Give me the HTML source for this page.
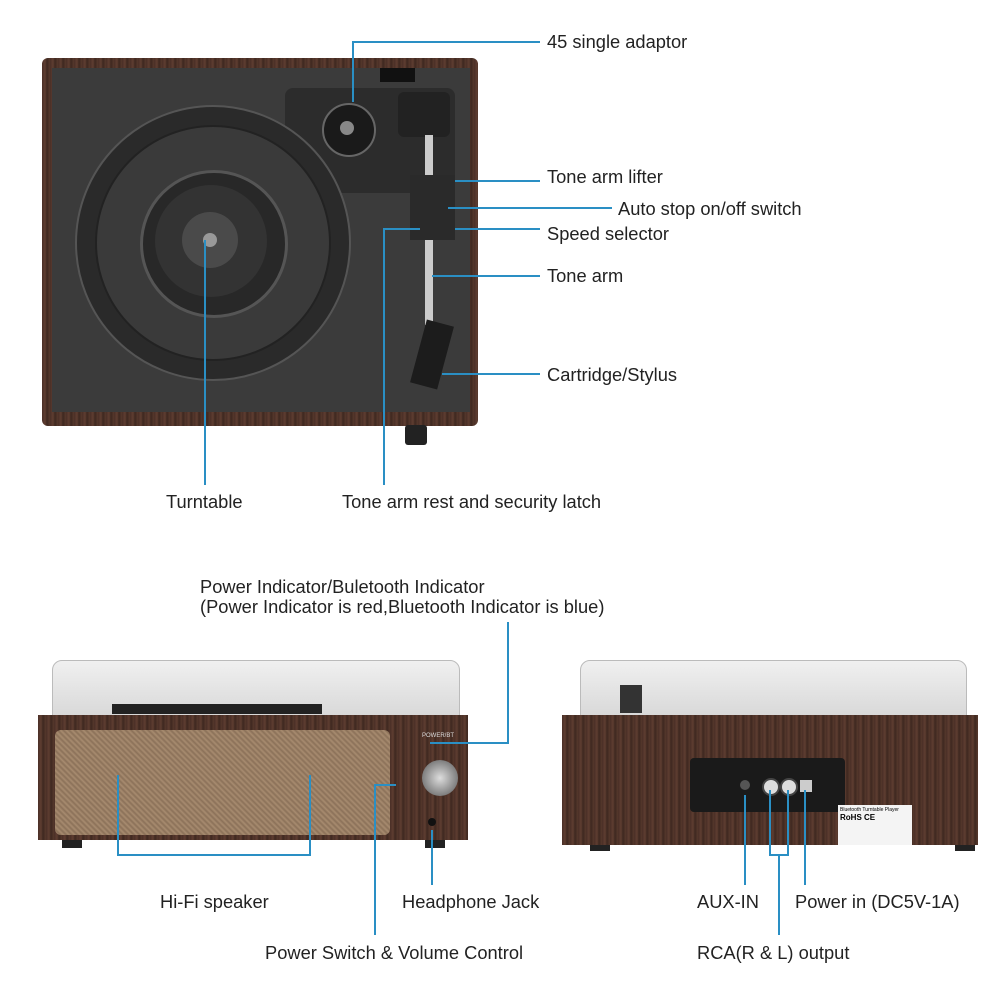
<!DOCTYPE html>
<html><head><style>
body{margin:0;width:1000px;height:1000px;background:#fff;position:relative;overflow:hidden;font-family:"Liberation Sans",sans-serif;}
.a{position:absolute}
.t{position:absolute;font-size:18.3px;color:#222;white-space:nowrap;line-height:1}
.h{position:absolute;height:2px;background:#2a8fc4}
.v{position:absolute;width:2px;background:#2a8fc4}
.c{position:absolute;border-radius:50%}
.wood{background:repeating-linear-gradient(90deg,#4a2f26 0,#5e3d31 3px,#3e2820 5px,#56382c 8px)}
</style></head><body>
<!-- top turntable -->
<div class="a wood" style="left:42px;top:58px;width:436px;height:368px;border-radius:6px"></div>
<div class="a" style="left:52px;top:68px;width:418px;height:344px;background:#3b3b3b"></div>
<div class="a" style="left:285px;top:88px;width:170px;height:105px;background:#2c2c2c;border-radius:8px"></div>
<div class="a" style="left:380px;top:68px;width:35px;height:14px;background:#111"></div>
<div class="c" style="left:75px;top:105px;width:272px;height:272px;background:#2a2a2a;border:2px solid #555"></div>
<div class="c" style="left:95px;top:125px;width:232px;height:232px;background:#3a3a3a;border:2px solid #222"></div>
<div class="c" style="left:140px;top:170px;width:142px;height:142px;background:#282828;border:3px solid #555"></div>
<div class="c" style="left:155px;top:185px;width:112px;height:112px;background:#333"></div>
<div class="c" style="left:182px;top:212px;width:56px;height:56px;background:#4a4a4a"></div>
<div class="c" style="left:203px;top:233px;width:14px;height:14px;background:#999"></div>
<div class="c" style="left:322px;top:103px;width:50px;height:50px;background:#1a1a1a;border:2px solid #666"></div>
<div class="c" style="left:340px;top:121px;width:14px;height:14px;background:#888"></div>
<div class="a" style="left:398px;top:92px;width:52px;height:45px;background:#222;border-radius:6px"></div>
<div class="a" style="left:425px;top:135px;width:8px;height:190px;background:#ccc"></div>
<div class="a" style="left:410px;top:175px;width:45px;height:65px;background:#2a2a2a"></div>
<div class="a" style="left:418px;top:322px;width:28px;height:65px;background:#1c1c1c;transform:rotate(15deg)"></div>
<div class="a" style="left:405px;top:425px;width:22px;height:20px;background:#222;border-radius:3px"></div>
<!-- top labels -->
<div class="v" style="left:352px;top:42px;height:60px"></div><div class="h" style="left:352px;top:41px;width:188px"></div>
<div class="t" style="left:547px;top:33px">45 single adaptor</div>
<div class="h" style="left:455px;top:180px;width:85px"></div><div class="t" style="left:547px;top:168px">Tone arm lifter</div>
<div class="h" style="left:448px;top:207px;width:164px"></div><div class="t" style="left:618px;top:200px">Auto stop on/off switch</div>
<div class="h" style="left:455px;top:228px;width:85px"></div><div class="t" style="left:547px;top:225px">Speed selector</div>
<div class="h" style="left:432px;top:275px;width:108px"></div><div class="t" style="left:547px;top:267px">Tone arm</div>
<div class="h" style="left:442px;top:373px;width:98px"></div><div class="t" style="left:547px;top:366px">Cartridge/Stylus</div>
<div class="v" style="left:204px;top:240px;height:245px"></div><div class="t" style="left:166px;top:493px">Turntable</div>
<div class="v" style="left:383px;top:229px;height:256px"></div><div class="h" style="left:383px;top:228px;width:37px"></div>
<div class="t" style="left:342px;top:493px">Tone arm rest and security latch</div>
<!-- bottom left device -->
<div class="a" style="left:52px;top:660px;width:406px;height:56px;background:linear-gradient(#f0f0f0,#d8d8d8);border-radius:10px 10px 0 0;border:1px solid #bbb"></div>
<div class="a" style="left:112px;top:704px;width:210px;height:10px;background:#222"></div>
<div class="a wood" style="left:38px;top:715px;width:430px;height:125px"></div>
<div class="a" style="left:55px;top:730px;width:335px;height:105px;background:repeating-linear-gradient(45deg,#8a7058 0,#a88c70 2px,#8a7058 4px);border-radius:6px"></div>
<div class="c" style="left:422px;top:760px;width:36px;height:36px;background:radial-gradient(#ddd,#555)"></div>
<div class="c" style="left:428px;top:818px;width:8px;height:8px;background:#111"></div>
<div class="a" style="left:422px;top:733px;font-size:6px;color:#ddd">POWER/BT</div>
<div class="a" style="left:62px;top:840px;width:20px;height:8px;background:#222"></div>
<div class="a" style="left:425px;top:840px;width:20px;height:8px;background:#222"></div>
<!-- bottom left labels -->
<div class="t" style="left:200px;top:578px">Power Indicator/Buletooth Indicator</div>
<div class="t" style="left:200px;top:598px">(Power Indicator is red,Bluetooth Indicator is blue)</div>
<div class="v" style="left:507px;top:622px;height:122px"></div><div class="h" style="left:430px;top:742px;width:79px"></div>
<div class="v" style="left:117px;top:775px;height:81px"></div><div class="v" style="left:309px;top:775px;height:81px"></div>
<div class="h" style="left:117px;top:854px;width:194px"></div>
<div class="t" style="left:160px;top:893px">Hi-Fi speaker</div>
<div class="v" style="left:431px;top:830px;height:55px"></div><div class="t" style="left:402px;top:893px">Headphone Jack</div>
<div class="v" style="left:374px;top:785px;height:150px"></div><div class="h" style="left:374px;top:784px;width:22px"></div>
<div class="t" style="left:265px;top:944px">Power Switch &amp; Volume Control</div>
<!-- bottom right device -->
<div class="a" style="left:580px;top:660px;width:385px;height:56px;background:linear-gradient(#f0f0f0,#d8d8d8);border-radius:10px 10px 0 0;border:1px solid #bbb"></div>
<div class="a" style="left:620px;top:685px;width:22px;height:28px;background:#333"></div>
<div class="a wood" style="left:562px;top:715px;width:416px;height:130px"></div>
<div class="a" style="left:690px;top:758px;width:155px;height:54px;background:#1a1a1a;border-radius:4px"></div>
<div class="c" style="left:762px;top:778px;width:14px;height:14px;background:#ddd;border:2px solid #444"></div>
<div class="c" style="left:780px;top:778px;width:14px;height:14px;background:#ddd;border:2px solid #444"></div>
<div class="c" style="left:740px;top:780px;width:10px;height:10px;background:#555"></div>
<div class="a" style="left:800px;top:780px;width:12px;height:12px;background:#ccc"></div>
<div class="a" style="left:838px;top:805px;width:74px;height:40px;background:#f4f4f4;font-size:5px;padding:2px;box-sizing:border-box">Bluetooth Turntable Player<br><b style="font-size:8px">RoHS CE</b></div>
<div class="a" style="left:590px;top:845px;width:20px;height:6px;background:#222"></div>
<div class="a" style="left:955px;top:845px;width:20px;height:6px;background:#222"></div>
<!-- bottom right labels -->
<div class="v" style="left:744px;top:795px;height:90px"></div><div class="t" style="left:697px;top:893px">AUX-IN</div>
<div class="v" style="left:769px;top:790px;height:66px"></div><div class="v" style="left:787px;top:790px;height:66px"></div>
<div class="h" style="left:769px;top:854px;width:20px"></div><div class="v" style="left:778px;top:855px;height:80px"></div>
<div class="t" style="left:697px;top:944px">RCA(R &amp; L) output</div>
<div class="v" style="left:804px;top:790px;height:95px"></div><div class="t" style="left:795px;top:893px">Power in (DC5V-1A)</div>
</body></html>
